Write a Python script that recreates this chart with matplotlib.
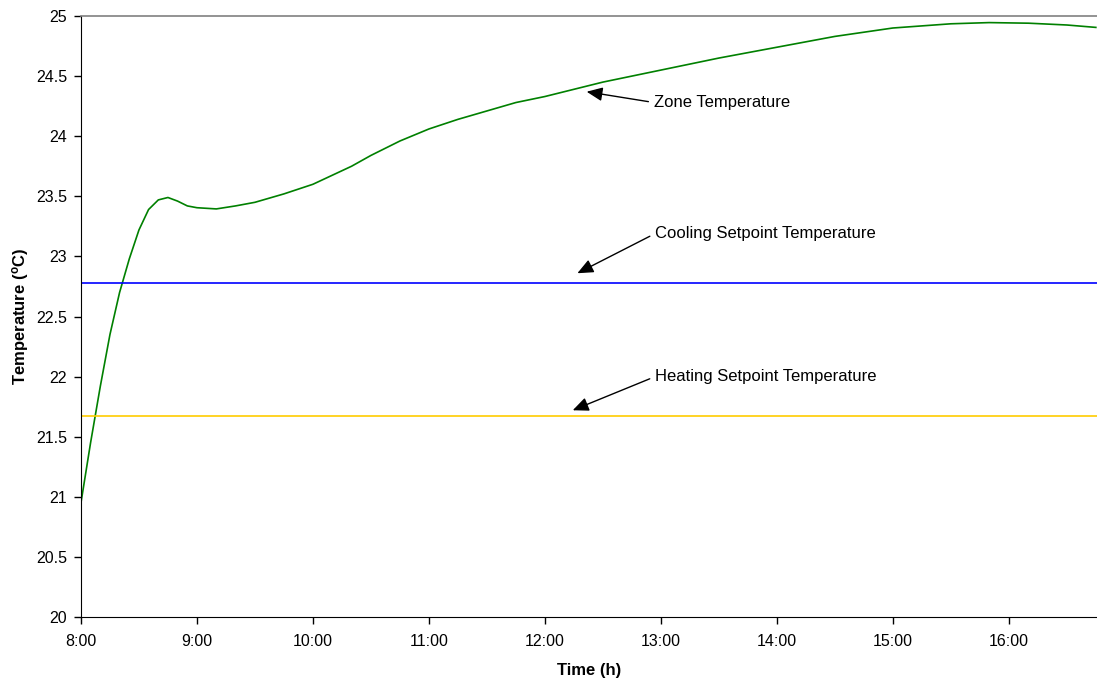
import matplotlib
matplotlib.use("Agg")
import matplotlib.pyplot as plt

plt.rcParams.update(
    {
        "font.family": ["Liberation Sans", "DejaVu Sans"],
        "font.size": 12,
        "mathtext.fontset": "custom",
        "mathtext.rm": "Liberation Sans",
        "mathtext.bf": "Liberation Sans:bold",
    }
)

# time in hours, zone temperature in degC
hours = [8.0, 8.083, 8.167, 8.25, 8.333, 8.417, 8.5, 8.583, 8.667, 8.75,
         8.833, 8.917, 9.0, 9.167, 9.333, 9.5, 9.75, 10.0, 10.333, 10.5,
         10.75, 11.0, 11.25, 11.5, 11.75, 12.0, 12.25, 12.5, 12.75, 13.0,
         13.5, 14.0, 14.5, 15.0, 15.5, 15.83, 16.17, 16.5, 16.75]
zone_temp = [20.95, 21.45, 21.92, 22.35, 22.7, 22.98, 23.22, 23.39, 23.47, 23.49,
             23.46, 23.42, 23.405, 23.395, 23.42, 23.45, 23.52, 23.60, 23.75, 23.84,
             23.96, 24.06, 24.14, 24.21, 24.28, 24.33, 24.39, 24.45, 24.50, 24.55,
             24.65, 24.74, 24.83, 24.90, 24.935, 24.945, 24.94, 24.925, 24.905]
cooling_sp = 22.78
heating_sp = 21.67

tick_hours = [8, 9, 10, 11, 12, 13, 14, 15, 16]
tick_labels = ["8:00", "9:00", "10:00", "11:00", "12:00", "13:00", "14:00", "15:00", "16:00"]
y_ticks = [20, 20.5, 21, 21.5, 22, 22.5, 23, 23.5, 24, 24.5, 25]

fig = plt.figure(figsize=(10.97, 6.83), dpi=100)
ax = fig.add_axes([0.0738, 0.0966, 0.9262, 0.88])

ax.plot(hours, zone_temp, color="#008000", lw=1.2)
ax.axhline(cooling_sp, color="#0000FF", lw=1.2)
ax.axhline(heating_sp, color="#FFCC00", lw=1.2)

ax.set_xlim(8, 16.76)
ax.set_ylim(20, 25)
ax.set_xticks(tick_hours)
ax.set_xticklabels(tick_labels)
ax.set_yticks(y_ticks)
ax.set_yticklabels([f"{v:g}" for v in y_ticks])
ax.tick_params(direction="out", length=5, width=1, colors="black", labelsize=11.5)
ax.tick_params(axis="x", pad=7.5)
ax.tick_params(axis="y", pad=5)

ax.spines["right"].set_visible(False)
ax.spines["top"].set_color("#808080")
ax.spines["top"].set_linewidth(1.2)

ax.set_xlabel("Time (h)", fontweight="bold", fontsize=12)
ax.set_ylabel(r"Temperature ($\mathbf{^o}$C)", fontweight="bold", fontsize=12)
ax.xaxis.set_label_coords(0.5, -0.076)
ax.yaxis.set_label_coords(-0.049, 0.5)

arrow = dict(arrowstyle="-|>,head_length=0.8,head_width=0.35", color="black",
             lw=1.0, shrinkA=2, shrinkB=0, relpos=(0, 0.5))
ax.annotate("Zone Temperature", xy=(12.36, 24.37), xytext=(12.94, 24.28),
            va="center", ha="left", arrowprops=arrow)
ax.annotate("Cooling Setpoint Temperature", xy=(12.28, 22.86), xytext=(12.95, 23.19),
            va="center", ha="left", arrowprops=arrow)
ax.annotate("Heating Setpoint Temperature", xy=(12.24, 21.72), xytext=(12.95, 22.0),
            va="center", ha="left", arrowprops=arrow)

fig.savefig("out.png", dpi=100)
